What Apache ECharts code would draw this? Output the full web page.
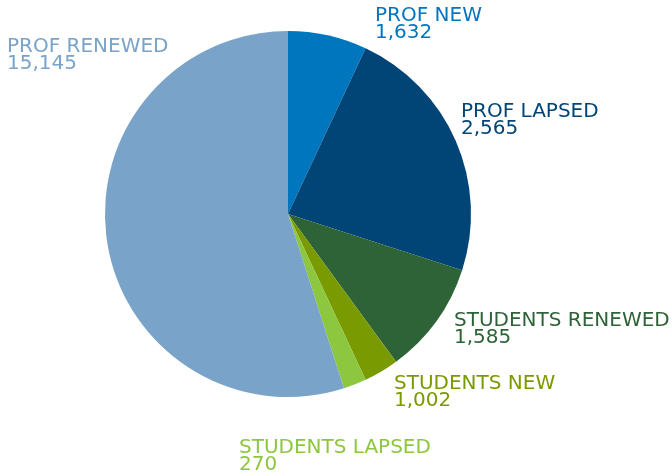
<!DOCTYPE html>
<html><head><meta charset="utf-8">
<script src="https://cdn.jsdelivr.net/npm/echarts@6/dist/echarts.min.js"></script>
<style>html,body{margin:0;padding:0;background:#fff}#c{width:672px;height:476px}</style>
</head><body><div id="c"></div>
<script>
const categories = ['PROF NEW', 'PROF LAPSED', 'STUDENTS RENEWED', 'STUDENTS NEW', 'STUDENTS LAPSED', 'PROF RENEWED'];
const labelValues = [1632, 2565, 1585, 1002, 270, 15145];
// slice shares as drawn in the reference (per mille)
const sliceShares = [69.7, 230, 99.7, 30.8, 20.3, 549.4];
const colors = ['#0076bf', '#004576', '#2e6337', '#7a9a01', '#8dc63f', '#79a3c8'];
const labelPos = [[375, 8], [461, 104], [454, 313], [394, 376], [239, 440], [7, 39]];

const chart = echarts.init(document.getElementById('c'));
chart.setOption({
  animation: false,
  series: [{
    type: 'pie',
    center: [288, 214],
    radius: [0, 183],
    startAngle: 90,
    clockwise: true,
    data: categories.map((n, i) => ({
      name: n, value: sliceShares[i],
      itemStyle: { color: colors[i] },
      label: { color: colors[i] }
    })),
    itemStyle: { borderWidth: 0 },
    label: {
      show: true,
      formatter: p => p.name + '\n' + labelValues[p.dataIndex].toLocaleString('en-US'),
      fontFamily: 'DejaVu Sans',
      fontSize: 20,
      lineHeight: 16.5,
      align: 'left',
      overflow: 'none',
      width: 400
    },
    labelLine: { show: false },
    labelLayout: p => ({ x: labelPos[p.dataIndex][0], y: labelPos[p.dataIndex][1], align: 'left', verticalAlign: 'top' })
  }]
});
</script></body></html>
